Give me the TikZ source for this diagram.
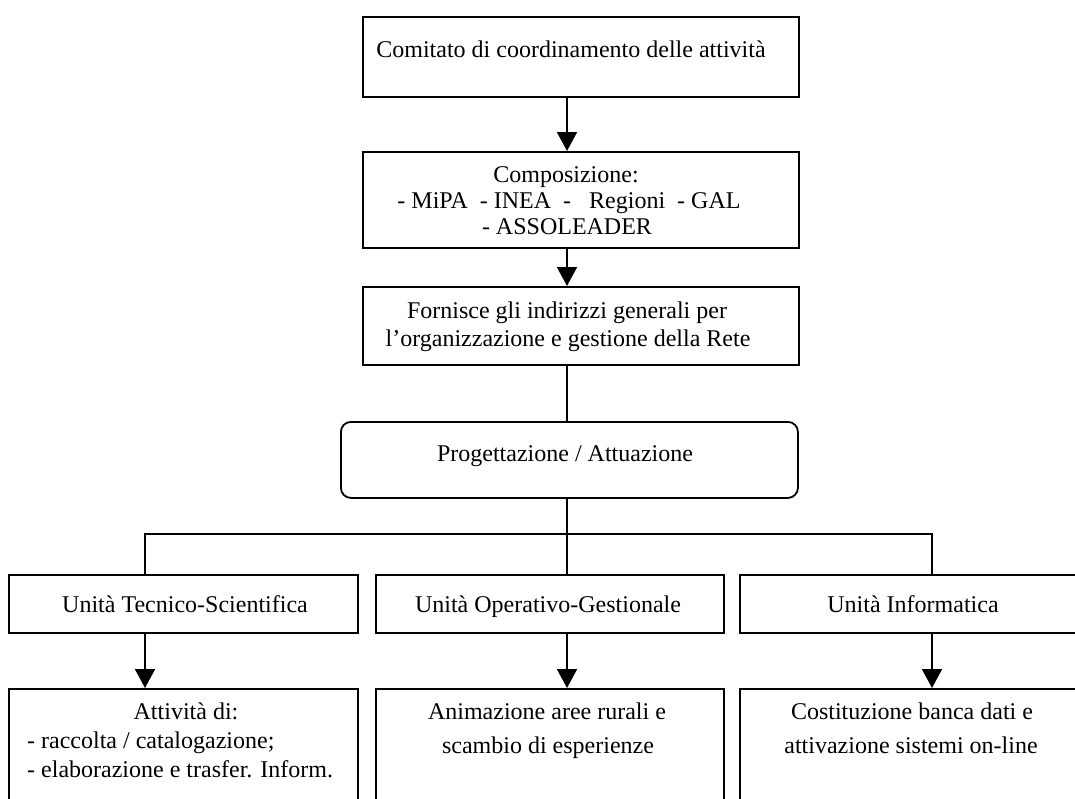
\documentclass[tikz,border=0pt]{standalone}
\usepackage{fontspec}
\setmainfont{Liberation Serif}
\usetikzlibrary{arrows.meta}

\tikzset{
  box/.style={draw, line width=1.8pt, inner sep=0pt, anchor=north west},
  roundbox/.style={box, rounded corners=10pt},
  txt/.style={anchor=base, inner sep=0pt, font=\fontsize{24}{28}\selectfont},
  txtleft/.style={txt, anchor=base west},
  link/.style={line width=1.8pt},
  arr/.style={link, -{Triangle[width=20pt,length=19pt]}}
}

\begin{document}
\begin{tikzpicture}[x=1pt, y=-1pt]
    \useasboundingbox (0,0) rectangle (1075,798);
    \clip (0,0) rectangle (1075,798);
    % Columns
    \coordinate (spine) at (567,0);
    \coordinate (c1) at (145,0);
    \coordinate (c3) at (932,0);
    \coordinate (bus) at (0,534);
    % Top chain
    \node[box, minimum width=436pt, minimum height=80pt] (comitato) at (362,16) {};
    \node[txt] (t-comitato) at (571,57) {Comitato di coordinamento delle attività};
    \node[box, minimum width=436pt, minimum height=96pt] (compos) at (362,151) {};
    \node[txt] (t-compos1) at (566,182) {Composizione:};
    \node[txt] (t-compos2) at (569,208) {- MiPA~~- INEA~~-~~ Regioni~~- GAL};
    \node[txt] (t-compos3) at (567,234) {- ASSOLEADER};
    \node[box, minimum width=436pt, minimum height=78pt] (fornisce) at (362,286) {};
    \node[txt] (t-fornisce1) at (567,318) {Fornisce gli indirizzi generali per};
    \node[txt] (t-fornisce2) at (568,346) {l’organizzazione e gestione della Rete};
    \node[roundbox, minimum width=457pt, minimum height=76pt] (progett) at (340,421) {};
    \node[txt] (t-progett) at (565,461) {Progettazione / Attuazione};
    % Units
    \node[box, minimum width=349pt, minimum height=58pt] (unit1) at (8,574) {};
    \node[txt] (t-unit1) at (185,612) {Unità Tecnico-Scientifica};
    \node[box, minimum width=348pt, minimum height=58pt] (unit2) at (375,574) {};
    \node[txt] (t-unit2) at (548,612) {Unità Operativo-Gestionale};
    \node[box, minimum width=350pt, minimum height=58pt] (unit3) at (739,574) {};
    \node[txt] (t-unit3) at (913,612) {Unità Informatica};
    % Activities (cut at the bottom edge)
    \node[box, minimum width=349pt, minimum height=140pt] (act1) at (8,688) {};
    \node[txt] (t-act1a) at (186,719) {Attività di:};
    \node[txtleft] (t-act1b) at (27,748) {- raccolta / catalogazione;};
    \node[txtleft] (t-act1c) at (27,777) {- elaborazione e trasfer. Inform.};
    \node[box, minimum width=348pt, minimum height=140pt] (act2) at (375,688) {};
    \node[txt] (t-act2a) at (547,719) {Animazione aree rurali e};
    \node[txt] (t-act2b) at (548,753) {scambio di esperienze};
    \node[box, minimum width=350pt, minimum height=140pt] (act3) at (739,688) {};
    \node[txt] (t-act3a) at (912,719) {Costituzione banca dati e};
    \node[txt] (t-act3b) at (911,753) {attivazione sistemi on-line};
    % Connectors
    \draw[arr] (comitato.south -| spine) -- (compos.north -| spine);
    \draw[arr] (compos.south -| spine) -- (fornisce.north -| spine);
    \draw[link] (fornisce.south -| spine) -- (progett.north -| spine);
    \draw[link] (progett.south -| spine) -- (unit2.north -| spine);
    \draw[link] (c1 |- unit1.north) -- (c1 |- bus) -- (c3 |- bus) -- (c3 |- unit3.north);
    \draw[arr] (unit1.south -| c1) -- (act1.north -| c1);
    \draw[arr] (unit2.south -| spine) -- (act2.north -| spine);
    \draw[arr] (unit3.south -| c3) -- (act3.north -| c3);
\end{tikzpicture}
\end{document}
